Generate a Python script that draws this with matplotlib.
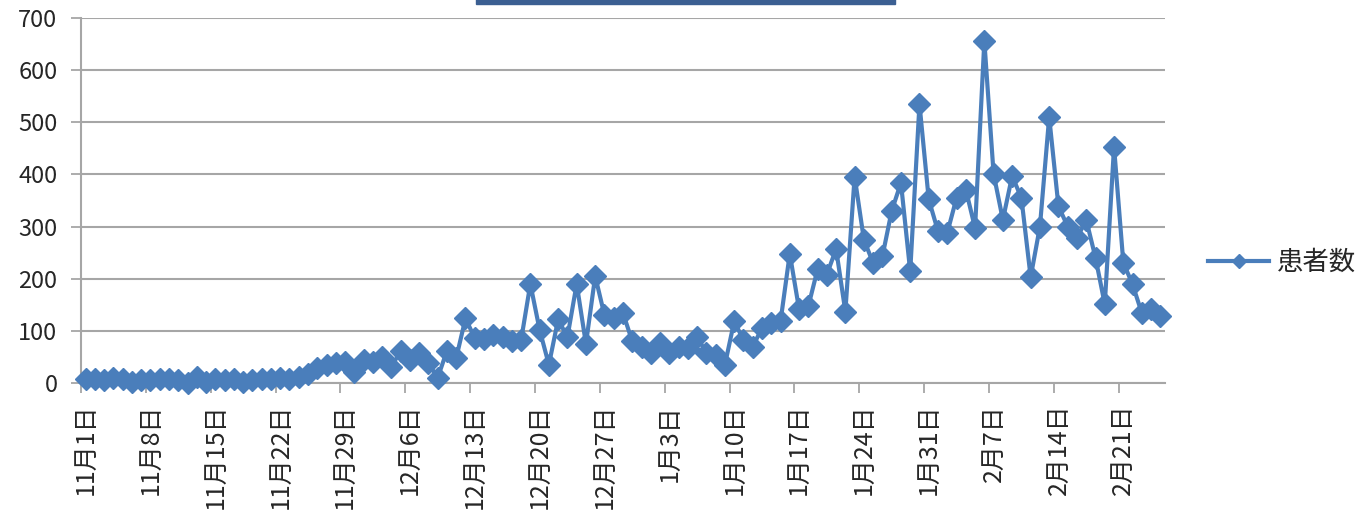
import matplotlib
matplotlib.use("Agg")
import matplotlib.pyplot as plt
from matplotlib.patches import Rectangle

plt.rcParams['font.family'] = ['Noto Sans CJK JP', 'DejaVu Sans']

# 日別の患者数 (11月1日 〜 2月25日)
NOV = [7, 8, 6, 9, 7, 1, 6, 5, 7, 8, 6, 0, 12, 2, 7, 6, 8, 1, 6, 8,
       7, 9, 8, 11, 18, 28, 35, 38, 40, 22]
DEC = [44, 41, 50, 31, 62, 45, 58, 38, 10, 62, 48, 124, 86, 85, 92, 88,
       80, 82, 190, 102, 35, 122, 88, 190, 75, 205, 130, 125, 134, 80, 70]
JAN = [57, 76, 57, 70, 67, 89, 57, 54, 35, 118, 83, 70, 105, 115, 118, 248,
       142, 147, 218, 208, 257, 137, 396, 275, 230, 243, 330, 384, 214, 535, 352]
FEB = [291, 288, 355, 371, 297, 656, 401, 313, 397, 355, 203, 300, 510,
       339, 300, 278, 313, 240, 151, 453, 231, 189, 134, 141, 128]

TICK_LABELS = ["11月1日", "11月8日", "11月15日", "11月22日", "11月29日",
               "12月6日", "12月13日", "12月20日", "12月27日", "1月3日",
               "1月10日", "1月17日", "1月24日", "1月31日", "2月7日",
               "2月14日", "2月21日"]
SERIES_NAME = "患者数"

BLUE = "#4A7EBB"
GRID = "#A6A6A6"
TEXT = "#262626"
W, H = 1371, 524

values = NOV + DEC + JAN + FEB
days = list(range(len(values)))

fig = plt.figure(figsize=(W / 100, H / 100), dpi=100)
ax = fig.add_axes([81 / W, 1 - 383 / H, (1165 - 81) / W, (383 - 18) / H])

ax.plot(days, values, color=BLUE, lw=3, marker="D", ms=11.5,
        markeredgewidth=1, label=SERIES_NAME, clip_on=False, zorder=3)

ax.set_xlim(-0.5, len(values) - 0.5)
ax.set_ylim(0, 700)
ax.set_yticks(range(0, 701, 100))
ax.grid(axis="y", color=GRID, lw=1.5)
ax.set_axisbelow(True)

# 目盛線は週の境界, ラベルは各週の日付
ax.set_xticks([d - 0.5 for d in range(0, len(values), 7)])
ax.set_xticklabels([])
ax.set_xticks(range(0, len(values), 7), minor=True)
ax.set_xticklabels(TICK_LABELS, minor=True, rotation=90, va="top", ha="center")
ax.tick_params(axis="x", which="major", length=7, width=1.3, color=GRID, direction="out")
ax.tick_params(axis="x", which="minor", length=0, pad=15, labelsize=18, labelcolor=TEXT)
ax.tick_params(axis="y", length=7, width=1.3, color=GRID, pad=10, labelsize=17, labelcolor=TEXT)

for s in ["top", "right"]:
    ax.spines[s].set_visible(False)
for s in ["left", "bottom"]:
    ax.spines[s].set_color(GRID)
    ax.spines[s].set_linewidth(1.5)

leg = ax.legend(loc="center left", bbox_to_anchor=(1.04, 0.33), frameon=False,
                borderaxespad=0, borderpad=0, handlelength=2.3, handletextpad=0.3,
                prop={"size": 19})
leg.legend_handles[0].set_markersize(7)
for t in leg.get_texts():
    t.set_color(TEXT)

# 上端で切れているタイトル枠
fig.add_artist(Rectangle((476 / W, 1 - 3.5 / H), (895 - 476) / W, 8 / H,
                         transform=fig.transFigure, color="#3B5F92", zorder=5))

fig.savefig("out.png", dpi=100)
